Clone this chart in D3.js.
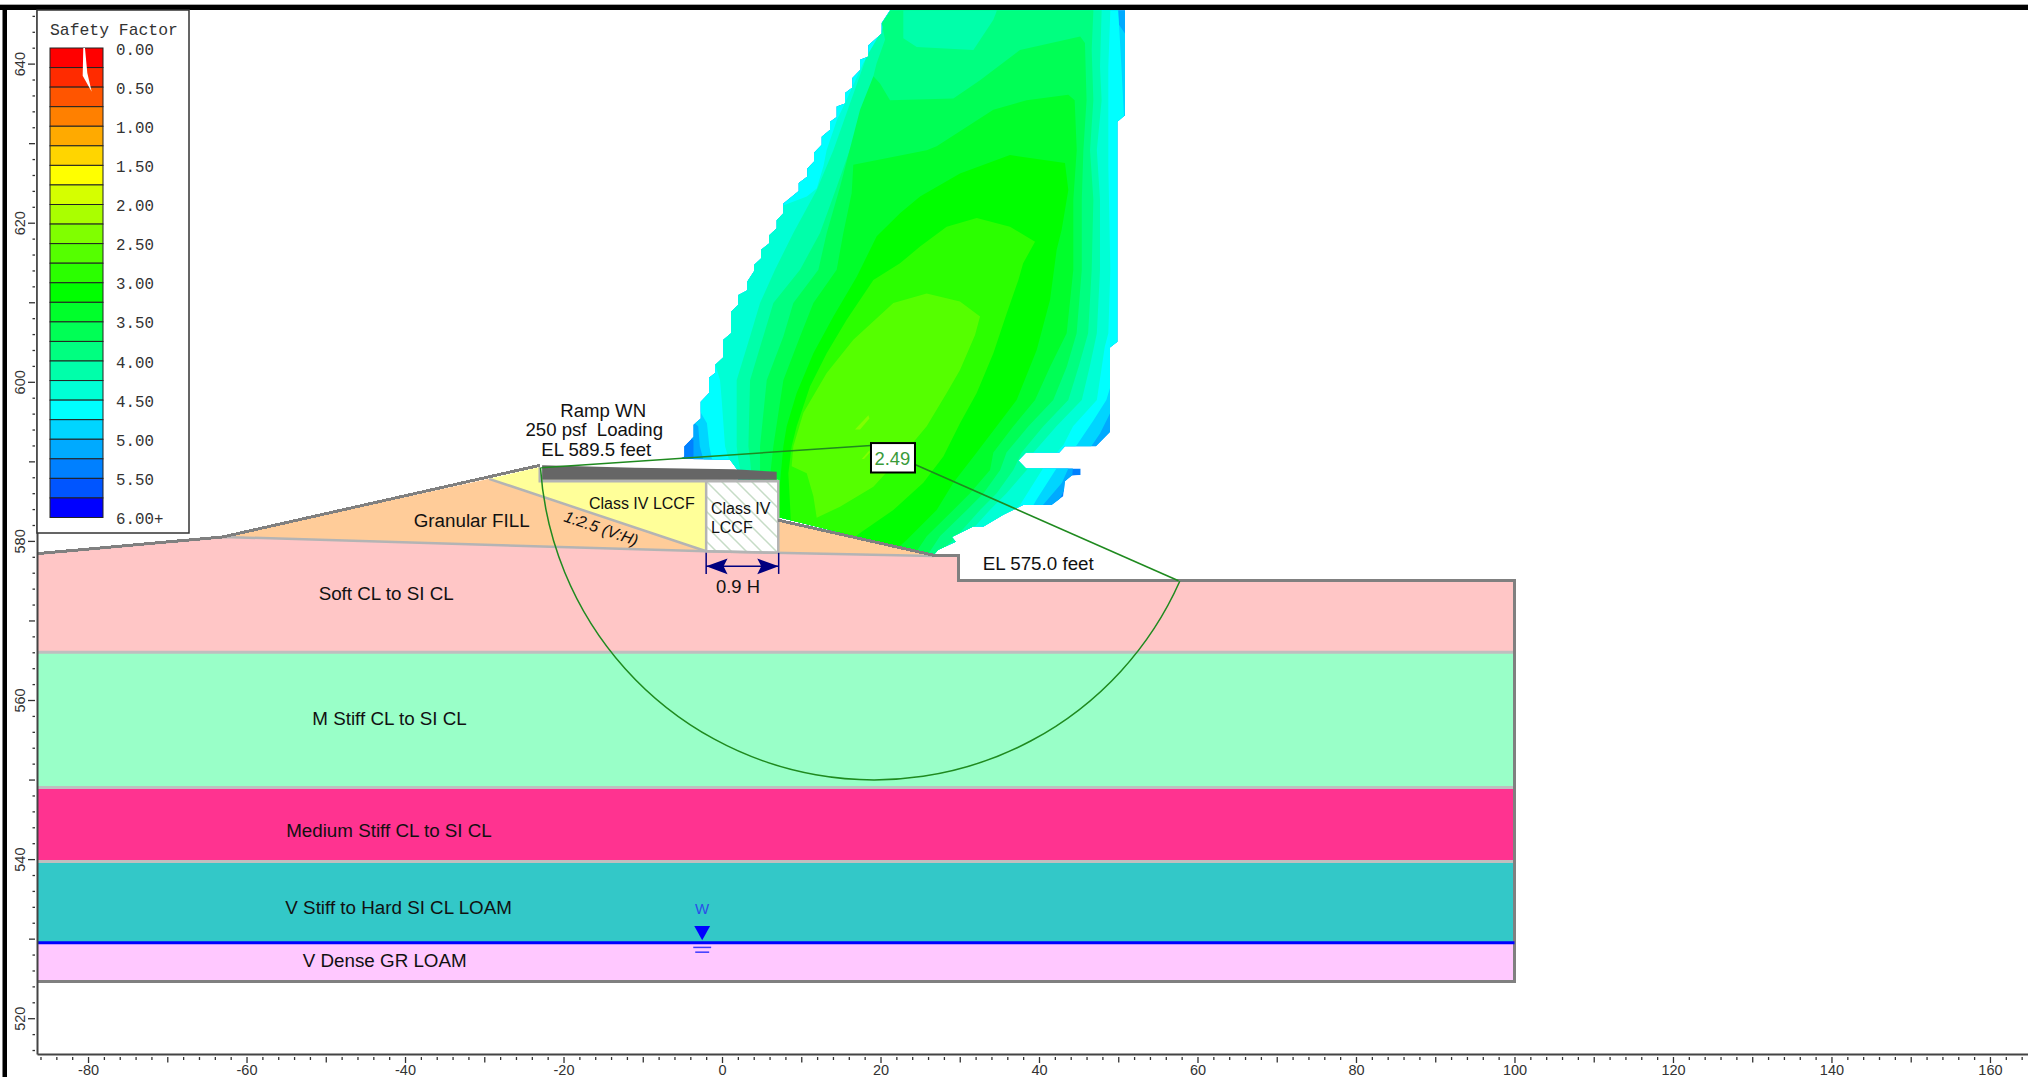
<!DOCTYPE html>
<html lang="en">
  <head>
    <meta charset="UTF-8" />
    <title>Safety Factor</title>
    <script src="https://d3js.org/d3.v7.min.js"></script>
    <style>
      html, body { margin: 0; background: #fff; }
      svg { display: block; }
      text { font-family: "Liberation Sans", Arial, sans-serif; fill: #111; white-space: pre; }
      .legend text { font-family: "Liberation Mono", "Courier New", monospace; font-size: 15.8px; fill: #333; }
      .axis text { font-size: 14.5px; fill: #333; }
    </style>
  </head>
  <body>
    <div id="chart"></div>
    <script>
      // legend
      const legendColors = ['#ff0000','#ff2b00','#ff5500','#ff8000','#ffaa00','#ffd500','#ffff00','#d5ff00','#aaff00','#80ff00','#55ff00','#2bff00','#00ff00','#00ff2b','#00ff55','#00ff80','#00ffaa','#00ffd5','#00ffff','#00d5ff','#00aaff','#0080ff','#0055ff','#0000ff'];
      const legendValues = [0, 0.5, 1, 1.5, 2, 2.5, 3, 3.5, 4, 4.5, 5, 5.5, 6];
      const legendSliver = [[0.628,0],[0.66,0],[0.704,0.32],[0.787,0.56],[0.617,0.354]];

      // ticks
      const xTicks = d3.range(-86, 165, 2);
      const yTicks = d3.range(516, 647, 2);

      // soil section, [x feet, elevation feet]
      const softClay = [[-86.4,578.4],[-63,580.5],[-2,578.7],[26.7,578.1],[29.9,578.1],[29.9,575],[100,575],[100,566],[-86.4,566]];
      const fillLeft = [[-63,580.5],[-29.4,587.8],[-2,578.7]];
      const fillRight = [[7.1,582.6],[26.7,578.2],[7.1,578.5]];
      const lccf = [[-29.4,587.8],[-23,589.3],[-22.9,587.7],[-2,587.7],[-2,578.7]];
      const lccfBox = [[-2,587.7],[7.1,587.7],[7.1,578.5],[-2,578.7]];
      const deck = [[-22.7,589.5],[-11,589.2],[1.5,589],[6.9,588.7],[6.9,587.7],[-22.7,587.7]];
      const groundLine = [[-86.4,578.4],[-63,580.5],[-23,589.5]];
      const slopeLine = [[7.1,582.6],[26.7,578.2],[29.9,578.2],[29.9,575],[100,575],[100,524.6],[-86.4,524.6]];
      const interfaceLine = [[-86.4,578.4],[-63,580.5],[-2,578.7],[26.7,578.1]];
      const lccfSlope = [[-29.4,587.8],[-2,578.7]];
      const boxEdge = [[-23,589.3],[-23,587.5],[7.1,587.5],[7.1,578.5],[-2,578.7],[-2,587.5]];

      const layerTops = [566, 549, 539.7, 529.5];
      const layerBottoms = [549, 539.7, 529.5, 524.6];
      const layerColors = ['#99ffc8', '#ff3390', '#33c8c8', '#ffc8ff'];
      const waterLevel = 529.5;
      const waterX = -2.5;

      // slip surface
      const slipCentre = [19.2, 592];
      const slipRadius = 42.2;
      const slipEnds = [[-22.8,589.2],[57.6,575]];
      const slipLabelBox = [18.8, 24.35, 592.3, 588.6];

      // safety factor contours, outermost first
      const outerRing = [[21.2,646.7],[20.15,645.1],[20.15,643.8],[18.47,642.3],[18.47,640.9],[17.42,640.5],[17.42,639.2],[16.45,638.2],[16.45,637],[15.52,636.3],[15.52,635],[14.47,634.6],[14.47,633.3],[13.63,632.7],[13.63,631.7],[12.58,630.8],[12.58,629.8],[11.61,628.8],[11.61,627.7],[10.77,626.8],[10.77,625.8],[9.68,625],[9.68,624],[7.74,622.4],[7.74,621.2],[6.9,620.3],[6.9,619.3],[5.93,618.4],[5.93,617.4],[4.92,616.6],[4.92,615.5],[4.04,614.7],[4.04,613.9],[3.2,612.6],[3.2,611.5],[2.06,610.9],[2.06,609.7],[1.14,608.8],[1.14,606.1],[0.17,605.3],[0.17,603.1],[-0.88,602.1],[-0.88,601.1],[-1.64,600.5],[-1.64,598.6],[-2.69,597.5],[-2.69,595.4],[-3.61,594.6],[-3.61,593.1],[-4.79,591.9],[-4.79,590.6],[-5.5,590.3],[1,590.2],[2.06,588.8],[2.06,586],[7,583],[26.67,578.2],[27.3,578.9],[29.5,579.9],[29,580.5],[31.7,581.8],[33,581.8],[35.5,583.3],[38,584.5],[41.6,584.5],[43.07,585.6],[43.28,587.5],[44.12,588.2],[45.26,588.3],[45.26,589.1],[38.36,589.1],[37.39,590.1],[38.36,591.1],[42.57,591.1],[43.28,591.9],[47.19,591.9],[48.96,593.7],[48.96,604.3],[49.89,605.05],[49.89,632.7],[50.85,633.5],[50.85,646.7]];
      const ring00aaff = [[4.8,576.8],[-3.6,589.4],[-3.6,592.7],[-5.3,593.5],[17.4,648.4],[53.2,648.4],[53.2,590.2],[44.3,589.4],[44.2,588.3],[43.7,587.5],[40.6,581],[34.2,576.8]];
      const ring00d5ff = [[4.8,576.8],[-2.4,590.4],[-2.8,591.9],[-3,594.4],[-4,595.2],[-5.7,597.7],[17.4,648.4],[49.9,648.4],[49.9,646.6],[50.1,644.9],[50.85,643.8],[51.9,639.6],[51.9,597.7],[49,596.1],[47.7,593.5],[46.6,591.9],[43.7,589.1],[42.9,587.3],[40.5,584.5],[38.4,581],[34.2,576.8]];
      const ring00ffff = [[4.8,576.8],[-1.3,590.4],[-1.6,591.9],[-1.9,594.8],[-3.6,597.7],[17.4,648.4],[50,648.4],[50,646.6],[50.4,639.6],[50.7,633.8],[51.1,631.2],[49.9,602.3],[48.5,597.7],[46.9,595.2],[44.8,592.1],[42.2,589.1],[39.7,585.2],[39.3,584.5],[38,582.7],[34.2,576.8]];
      const ring00ffd5 = [[4.8,576.8],[1,589.8],[0.38,591.9],[-0.04,597.7],[-0.25,600.2],[-0.88,602.3],[1.43,611.1],[4.38,616.2],[5.64,618.7],[7.3,622],[10.7,623.3],[11.95,624.3],[12.8,627.1],[13.2,629.1],[14.5,632.9],[15.5,635],[17.8,640],[19.9,643.4],[22,646.6],[22,648.4],[49,648.4],[49,646.6],[48.75,639.6],[48.75,627.1],[49,614.1],[48.75,606.1],[48.3,604.4],[47.3,597.7],[44.3,594.4],[43.1,592.1],[40.5,589.1],[37.6,584.5],[35.5,582.7],[32.1,580.1],[25.8,576.8]];
      const ring00ffaa = [[4.8,576.8],[2.06,590.2],[1.85,591.9],[1.85,600.2],[3.54,605.7],[4.8,609.9],[6.69,614.1],[9,618.7],[11.95,624.1],[14.05,629.1],[16.15,635],[18.25,640.9],[19.94,643.8],[21.2,646.6],[21.2,648.4],[47.9,648.4],[47.9,646.6],[47.7,639.6],[47.9,635.4],[47.3,629.1],[47.7,622.9],[47.7,614.1],[47.3,606.1],[46.4,601.9],[45.4,597.7],[42.2,594.4],[39.3,591.1],[38.45,588.9],[35.9,586],[33.8,583.9],[30,579.7],[25.8,576.8]];
      const ring00ff80 = [[4.8,576.8],[3.54,590.2],[3.33,591.9],[3.54,600.2],[6.48,609.9],[9.85,614.1],[12.37,618.7],[14.47,624.5],[16.57,630.4],[18.68,636.7],[19.5,640],[20.57,643],[20.15,645.1],[21.2,646.6],[21.2,648.4],[46.86,648.4],[46.86,646.6],[46.65,641.7],[46.86,635.4],[46.44,629.1],[46.86,622.9],[46.65,614.1],[46.2,606.1],[45,601.9],[43.7,597.7],[40.55,594.4],[37.8,591.1],[36.76,588.9],[34.66,586],[32.56,583.9],[29.19,580.1],[25.4,576.8]];
      const patch00ffaa = [[22.88,648.4],[22.88,643.2],[24.57,642.1],[31.72,641.7],[34.24,645.5],[34.66,646.6],[34.66,648.4]];
      const ring00ff55 = [[4.8,576.8],[4.8,591.9],[5.64,600.2],[7.74,605.7],[9,609.9],[12.16,614.1],[13.21,618.7],[14.89,624.5],[17.42,634.2],[19.1,638.4],[19.94,637.5],[21.2,635.4],[29.19,635.6],[32.56,637.9],[37.6,641.7],[45.2,643.4],[45.8,642.6],[46,635.4],[45.6,629.1],[45.4,622.9],[45.4,614.1],[44.75,606.1],[43.5,601.9],[41.8,597.7],[38.66,594.4],[35.9,591.1],[35.1,588.9],[33,586],[30.9,583.9],[27.5,580.6],[25,576.8]];
      const ring00ff2b = [[4.8,576.8],[6.48,591.9],[7.74,600.2],[9.85,605.7],[11.53,609.9],[14.47,614.1],[15.31,618.7],[16.36,623.7],[16.57,627.3],[25.83,629.1],[27.09,629.6],[30.03,631.5],[34.24,634.2],[38.45,635.4],[43.7,636.1],[44.5,635.4],[44.76,629.1],[44.33,622.9],[44.33,614.1],[43.49,606.1],[41.4,601.9],[39.5,597.7],[36.76,594.4],[34.24,591.1],[33.82,588.9],[31.3,586],[29.19,583.9],[25.83,580.6],[23.3,576.8]];
      const ring00ff00 = [[4.8,576.8],[7.32,587.3],[7.74,591.9],[8.16,594.4],[9.42,598.6],[11.53,603.6],[14.05,608.2],[17,613.2],[19.52,618.3],[22.46,621.2],[24.99,623.3],[30.03,626.2],[36.34,628.5],[43.28,627.5],[43.7,624.1],[42.86,619.1],[42.23,616.6],[41.39,610.3],[39.71,604],[37.18,597.7],[34.66,594.4],[32.14,591.1],[29.19,587.3],[27.09,583.9],[23.3,580.1],[19.52,576.8]];
      const ring2bff00 = [[9,576.8],[8.37,588.5],[8.79,591.9],[9.42,594.4],[11.1,599.4],[13.21,603.6],[15.73,607.8],[19.1,612.8],[22.46,614.9],[24.99,617],[28.35,619.5],[32.14,620.6],[36.34,619.5],[39.5,617.6],[38,614.9],[37.4,612.8],[35.92,608.6],[34.24,603.6],[32.14,598.6],[30.03,594.8],[27.93,590.6],[25.4,587.3],[21.62,583.9],[17.42,581],[11.95,576.8]];
      const ring55ff00 = [[11.95,582.9],[11.53,585.6],[10.69,588.5],[8.79,589.4],[9,591.9],[10.27,596.1],[13.21,601.1],[16.57,605.3],[21.62,609.9],[25.83,611.1],[30.03,610.1],[32.56,608.2],[31.93,605.9],[30.03,601.5],[28.35,598.6],[25.83,594.4],[23.3,591.4],[19.1,586.8],[14.89,584.3]];
      const spot80ffA = [[16.78,594],[18.47,595.8],[18.6,595.4],[17.42,594]];
      const spot80ffB = [[17.63,590.3],[18.6,591.4],[18.68,591.1],[17.92,590.3]];
      const contourRings = [
        [outerRing, '#0080ff'], [ring00aaff, '#00aaff'], [ring00d5ff, '#00d5ff'], [ring00ffff, '#00ffff'],
        [ring00ffd5, '#00ffd5'], [ring00ffaa, '#00ffaa'], [ring00ff80, '#00ff80'], [patch00ffaa, '#00ffaa'],
        [ring00ff55, '#00ff55'], [ring00ff2b, '#00ff2b'], [ring00ff00, '#00ff00'], [ring2bff00, '#2bff00'],
        [ring55ff00, '#55ff00'], [spot80ffA, '#80ff00'], [spot80ffB, '#80ff00']
      ];

      // text labels: text, x, elevation, font size
      const labels = [
        ['Soft CL to SI CL', -50.9, 572.6, 18.8],
        ['M Stiff CL to SI CL', -51.7, 556.9, 18.8],
        ['Medium Stiff CL to SI CL', -55, 542.8, 18.8],
        ['V Stiff to Hard SI CL LOAM', -55.1, 533.1, 18.8],
        ['V Dense GR LOAM', -52.9, 526.4, 18.8],
        ['Granular FILL', -38.9, 581.8, 18.8],
        ['Ramp WN', -20.4, 595.6, 18.6],
        ['250 psf  Loading', -24.8, 593.2, 18.6],
        ['EL 589.5 feet', -22.8, 590.7, 18.6],
        ['Class IV LCCF', -16.8, 584, 16],
        ['Class IV', -1.4, 583.4, 16],
        ['LCCF', -1.4, 581, 16],
        ['0.9 H', -0.76, 573.5, 18.4],
        ['EL 575.0 feet', 32.9, 576.3, 18.8]
      ];

      const width = 2028;
      const height = 1077;

      const x = d3.scaleLinear().domain([-86.44, 164.8]).range([37, 2028]);
      const y = d3.scaleLinear().domain([515.5, 646.74]).range([1054, 10]);
      const legendY = d3.scaleLinear().domain([0, 6]).range([48, 517.5]);
      const legendX = d3.scaleLinear().domain([0, 1]).range([50, 103]);

      const svg = d3
        .select('#chart')
        .append('svg')
        .attr('width', width)
        .attr('height', height);

      const line = d3.line().x((d) => x(d[0])).y((d) => y(d[1]));
      const ring = (pts) => line(pts) + 'Z';

      const defs = svg.append('defs');
      defs.append('clipPath').attr('id', 'outer').append('path').attr('d', ring(outerRing));
      const hatch = defs
        .append('pattern')
        .attr('id', 'hatch')
        .attr('patternUnits', 'userSpaceOnUse')
        .attr('width', 15)
        .attr('height', 15);
      hatch.append('rect').attr('width', 15).attr('height', 15).attr('fill', '#fff');
      hatch
        .append('path')
        .attr('d', 'M-2,-2L17,17M-2,13L2,17M13,-2L17,2')
        .attr('stroke', '#c6dcc6')
        .attr('stroke-width', 1.5);

      // contours
      svg
        .append('g')
        .attr('clip-path', 'url(#outer)')
        .selectAll('path')
        .data(contourRings)
        .join('path')
        .attr('d', (d) => ring(d[0]))
        .attr('fill', (d) => d[1]);

      // soil layers
      svg.append('path').attr('d', ring(softClay)).attr('fill', '#ffc6c6');
      svg
        .append('g')
        .selectAll('rect')
        .data(layerTops)
        .join('rect')
        .attr('x', x(-86.44))
        .attr('y', (d) => y(d))
        .attr('width', x(100) - x(-86.44))
        .attr('height', (d, i) => y(layerBottoms[i]) - y(d))
        .attr('fill', (d, i) => layerColors[i]);
      svg
        .append('g')
        .selectAll('line')
        .data(layerTops.slice(0, 3))
        .join('line')
        .attr('x1', x(-86.44))
        .attr('x2', x(100))
        .attr('y1', (d) => y(d))
        .attr('y2', (d) => y(d))
        .attr('stroke', '#bfbfbf')
        .attr('stroke-width', 3);

      svg.append('path').attr('d', ring(fillLeft)).attr('fill', '#ffcc99');
      svg.append('path').attr('d', ring(fillRight)).attr('fill', '#ffcc99');
      svg.append('path').attr('d', ring(lccf)).attr('fill', '#ffff99');
      svg.append('path').attr('d', ring(lccfBox)).attr('fill', 'url(#hatch)');

      const stroke = (pts, color, w) =>
        svg
          .append('path')
          .attr('d', line(pts))
          .attr('fill', 'none')
          .attr('stroke', color)
          .attr('stroke-width', w);

      stroke(interfaceLine, '#b4b4b4', 2.5);
      stroke(lccfSlope, '#b4b4b4', 2.5);
      stroke(boxEdge, '#b4b4b4', 2.5);
      svg.append('path').attr('d', ring(deck)).attr('fill', '#666');
      stroke(groundLine, '#808080', 3).attr('shape-rendering', 'crispEdges');
      stroke(slopeLine, '#808080', 3).attr('shape-rendering', 'crispEdges');

      // water table
      const water = svg.append('g');
      water
        .append('line')
        .attr('x1', x(-86.44))
        .attr('x2', x(100))
        .attr('y1', y(waterLevel))
        .attr('y2', y(waterLevel))
        .attr('stroke', '#0000ff')
        .attr('stroke-width', 3);
      water
        .append('path')
        .attr('d', ring([[waterX - 1, 531.6], [waterX + 1, 531.6], [waterX, 529.8]]))
        .attr('fill', '#0000ff');
      [[528.9, 1.13], [528.3, 0.88]].forEach(([lvl, half]) => {
        water
          .append('line')
          .attr('x1', x(waterX - half))
          .attr('x2', x(waterX + half))
          .attr('y1', y(lvl))
          .attr('y2', y(lvl))
          .attr('stroke', '#3a3aff')
          .attr('stroke-width', 1.5);
      });
      water
        .append('text')
        .attr('x', x(waterX))
        .attr('y', y(533.1))
        .attr('text-anchor', 'middle')
        .style('font-size', '15px')
        .style('fill', '#2a50e8')
        .text('W');

      // slip circle
      const slipGreen = '#1f8a1f';
      const cx = x(slipCentre[0]);
      const cy = y(slipCentre[1]);
      const r = x(slipCentre[0] + slipRadius) - cx;
      const arc = d3.path();
      arc.arc(
        cx,
        cy,
        r,
        Math.atan2(y(slipEnds[0][1]) - cy, x(slipEnds[0][0]) - cx),
        Math.atan2(y(slipEnds[1][1]) - cy, x(slipEnds[1][0]) - cx),
        true
      );
      svg.append('path').attr('d', arc.toString()).attr('fill', 'none').attr('stroke', slipGreen).attr('stroke-width', 1.5);
      stroke([slipEnds[0], [slipLabelBox[0], 592]], slipGreen, 1.6);
      stroke([[slipLabelBox[1], 589.6], slipEnds[1]], slipGreen, 1.6);
      svg
        .append('rect')
        .attr('x', x(slipLabelBox[0]))
        .attr('y', y(slipLabelBox[2]))
        .attr('width', x(slipLabelBox[1]) - x(slipLabelBox[0]))
        .attr('height', y(slipLabelBox[3]) - y(slipLabelBox[2]))
        .attr('fill', '#fff')
        .attr('stroke', '#000')
        .attr('stroke-width', 2);
      svg
        .append('text')
        .attr('x', x(21.5))
        .attr('y', y(589.6))
        .attr('text-anchor', 'middle')
        .style('font-size', '18.4px')
        .style('fill', '#3a9a3a')
        .text('2.49');

      // 0.9 H dimension
      const dim = svg.append('g').attr('stroke', '#00007f').attr('fill', '#00007f');
      [-2, 7.15].forEach((v) => {
        dim
          .append('line')
          .attr('x1', x(v))
          .attr('x2', x(v))
          .attr('y1', y(578.5))
          .attr('y2', y(575.85))
          .attr('stroke-width', 1.5);
      });
      dim
        .append('line')
        .attr('x1', x(-2))
        .attr('x2', x(7.15))
        .attr('y1', y(576.8))
        .attr('y2', y(576.8))
        .attr('stroke-width', 1.5);
      dim.append('path').attr('stroke', 'none').attr('d', ring([[-2, 576.8], [0.7, 577.8], [0.2, 576.8], [0.7, 575.8]]));
      dim.append('path').attr('stroke', 'none').attr('d', ring([[7.15, 576.8], [4.45, 577.8], [4.95, 576.8], [4.45, 575.8]]));

      // labels
      svg
        .append('g')
        .selectAll('text')
        .data(labels)
        .join('text')
        .attr('x', (d) => x(d[1]))
        .attr('y', (d) => y(d[2]))
        .style('font-size', (d) => d[3] + 'px')
        .text((d) => d[0]);
      svg
        .append('text')
        .attr('transform', 'translate(' + x(-20.06) + ',' + y(582.5) + ') rotate(19)')
        .style('font-size', '16px')
        .style('font-style', 'italic')
        .text('1:2.5 (V:H)');

      // frame
      svg.append('rect').attr('x', 0).attr('y', 4).attr('width', width).attr('height', 1.5).attr('fill', '#aaa');
      svg.append('rect').attr('x', 0).attr('y', 5).attr('width', width).attr('height', 5).attr('fill', '#000');
      svg.append('rect').attr('x', 2.5).attr('y', 5).attr('width', 4.5).attr('height', height).attr('fill', '#000');

      // axes
      const xAxis = svg
        .append('g')
        .attr('class', 'axis')
        .attr('transform', 'translate(0,1054)')
        .call(
          d3
            .axisBottom(x)
            .tickValues(xTicks)
            .tickSizeOuter(0)
            .tickFormat((d) => (d % 20 === 0 ? String(d) : ''))
        );
      xAxis.select('.domain').attr('stroke', '#444').attr('stroke-width', 2);
      xAxis
        .selectAll('.tick line')
        .attr('y1', 3)
        .attr('y2', (d) => (d % 20 === 0 ? 9 : d % 10 === 0 ? 8.5 : 6))
        .attr('stroke', '#333')
        .attr('stroke-width', 1.3);
      xAxis.selectAll('.tick text').attr('y', 11).attr('dy', '.71em').style('font-family', '"Liberation Sans"');

      const yAxis = svg
        .append('g')
        .attr('class', 'axis')
        .attr('transform', 'translate(37,0)')
        .call(
          d3
            .axisLeft(y)
            .tickValues(yTicks)
            .tickSizeOuter(0)
            .tickFormat((d) => (d % 20 === 0 ? String(d) : ''))
        );
      yAxis.select('.domain').attr('stroke', '#444').attr('stroke-width', 2);
      yAxis
        .selectAll('.tick line')
        .attr('x1', -2)
        .attr('x2', (d) => (d % 20 === 0 ? -9 : d % 10 === 0 ? -8 : -4.5))
        .attr('stroke', '#333')
        .attr('stroke-width', 1.3);
      yAxis
        .selectAll('.tick text')
        .attr('x', 0)
        .attr('y', 0)
        .attr('dy', '.35em')
        .attr('text-anchor', 'middle')
        .attr('transform', 'translate(-17,0) rotate(-90)');

      // legend
      const legend = svg.append('g').attr('class', 'legend');
      legend
        .append('rect')
        .attr('x', 37)
        .attr('y', 10)
        .attr('width', 152)
        .attr('height', 523)
        .attr('fill', '#fff')
        .attr('stroke', '#333')
        .attr('stroke-width', 1.5);
      legend.append('text').attr('x', 50).attr('y', 35).style('font-size', '16.4px').text('Safety Factor');
      legend
        .selectAll('.swatch')
        .data(legendColors)
        .join('rect')
        .attr('class', 'swatch')
        .attr('x', legendX(0))
        .attr('y', (d, i) => legendY(i * 0.25))
        .attr('width', legendX(1) - legendX(0))
        .attr('height', legendY(0.25) - legendY(0))
        .attr('fill', (d) => d)
        .attr('stroke', '#222')
        .attr('stroke-width', 1);
      legend
        .append('path')
        .attr('d', d3.line().x((d) => legendX(d[0])).y((d) => legendY(d[1]))(legendSliver) + 'Z')
        .attr('fill', '#fff');
      legend
        .selectAll('.value')
        .data(legendValues)
        .join('text')
        .attr('class', 'value')
        .attr('x', 116)
        .attr('y', (d) => legendY(d) + 6.5)
        .text((d) => d3.format('.2f')(d) + (d === 6 ? '+' : ''));
    </script>
  </body>
</html>
